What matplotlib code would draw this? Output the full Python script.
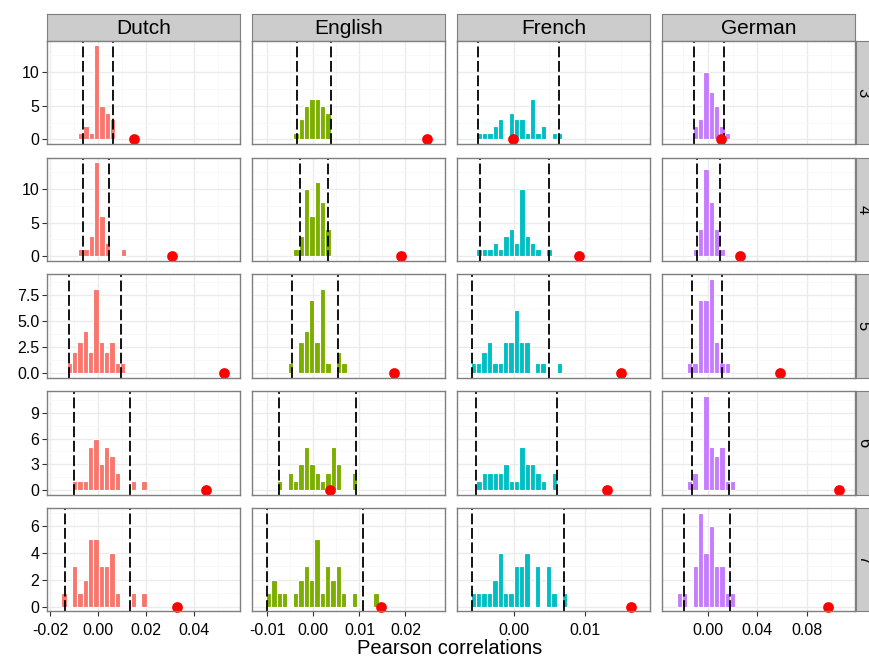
import numpy as np
import matplotlib
matplotlib.use("Agg")
import matplotlib.pyplot as plt

plt.rcParams["font.family"] = ["Liberation Sans", "DejaVu Sans"]

languages = ["Dutch", "English", "French", "German"]
windows = ["3", "4", "5", "6", "7"]
colors = ["#F8766D", "#7CAE00", "#00BFC4", "#C77CFF"]

# histogram bin width per language (free x scale per column)
bin_width = {"Dutch": 0.00222, "English": 0.001164, "French": 0.000751, "German": 0.00433}

# left edge of first bin, one per window size (3..7)
bin_start = {
    "Dutch": [-0.0084, -0.0084, -0.0131, -0.0109, -0.0153],
    "English": [-0.0044, -0.0044, -0.0056, -0.0079, -0.0103],
    "French": [-0.0052, -0.0052, -0.0060, -0.0052, -0.0060],
    "German": [-0.0125, -0.0125, -0.0169, -0.0169, -0.0255],
}
counts = {
    "Dutch": [
        [1, 2, 1, 14, 5, 4, 3],
        [1, 1, 3, 14, 6, 2, 0, 0, 1],
        [1, 2, 3, 4, 2, 8, 3, 2, 3, 1, 1],
        [1, 1, 1, 5, 6, 3, 5, 4, 2, 0, 0, 1, 0, 1],
        [1, 0, 3, 1, 2, 5, 5, 3, 3, 4, 1, 0, 0, 1, 0, 1],
    ],
    "English": [
        [1, 3, 5, 6, 6, 5, 4],
        [1, 3, 10, 6, 11, 8, 4],
        [1, 0, 3, 4, 7, 3, 8, 1, 0, 2, 1],
        [1, 0, 2, 1, 3, 5, 3, 2, 1, 2, 5, 3, 0, 0, 2],
        [1, 2, 1, 1, 0, 1, 2, 3, 2, 5, 1, 3, 2, 3, 1, 0, 1, 0, 0, 0, 1],
    ],
    "French": [
        [1, 1, 1, 2, 3, 0, 4, 3, 3, 1, 6, 1, 2, 0, 1, 1],
        [1, 1, 1, 2, 1, 3, 4, 2, 10, 3, 2, 1, 0, 1],
        [1, 1, 2, 3, 1, 1, 3, 3, 6, 3, 3, 0, 1, 1, 0, 0, 1],
        [1, 2, 2, 2, 2, 3, 1, 1, 5, 3, 3, 2, 1, 0, 2],
        [1, 1, 1, 1, 2, 4, 1, 1, 3, 3, 4, 0, 3, 0, 3, 1, 0, 1],
    ],
    "German": [
        [2, 3, 10, 7, 5, 2, 1],
        [1, 4, 13, 8, 4, 1],
        [1, 1, 7, 7, 9, 3, 1, 1],
        [1, 2, 0, 11, 5, 4, 5, 1, 1],
        [1, 1, 0, 3, 7, 4, 6, 3, 3, 1, 1],
    ],
}
# permutation interval bounds (dashed lines) and observed correlation (red dot)
lower = {
    "Dutch": [-0.0061, -0.0062, -0.0122, -0.0100, -0.0139],
    "English": [-0.0035, -0.0030, -0.0046, -0.0074, -0.0100],
    "French": [-0.0050, -0.0047, -0.0058, -0.0053, -0.0058],
    "German": [-0.0116, -0.0089, -0.0132, -0.0130, -0.0195],
}
upper = {
    "Dutch": [0.0060, 0.0045, 0.0095, 0.0133, 0.0133],
    "English": [0.0039, 0.0031, 0.0054, 0.0092, 0.0108],
    "French": [0.0064, 0.0049, 0.0050, 0.0061, 0.0070],
    "German": [0.0127, 0.0098, 0.0116, 0.0168, 0.0179],
}
observed = {
    "Dutch": [0.0148, 0.0307, 0.0522, 0.0448, 0.0328],
    "English": [0.0247, 0.0190, 0.0174, 0.0035, 0.0146],
    "French": [-0.0001, 0.0092, 0.0151, 0.0131, 0.0164],
    "German": [0.0105, 0.0260, 0.0584, 0.1065, 0.0976],
}

xlims = [(-0.02125, 0.059), (-0.01334, 0.02858), (-0.00793, 0.01911), (-0.0373, 0.1192)]
xticks = [[-0.02, 0.0, 0.02, 0.04], [-0.01, 0.0, 0.01, 0.02], [0.0, 0.01], [0.0, 0.04, 0.08]]
xticklabels = [["-0.02", "0.00", "0.02", "0.04"], ["-0.01", "0.00", "0.01", "0.02"],
               ["0.00", "0.01"], ["0.00", "0.04", "0.08"]]
xstep = [0.02, 0.01, 0.01, 0.04]
ylims = [(-0.7, 14.7), (-0.7, 14.7), (-0.45, 9.45), (-0.55, 11.55), (-0.35, 7.35)]
yticks = [[0, 5, 10], [0, 5, 10], [0, 2.5, 5, 7.5], [0, 3, 6, 9], [0, 2, 4, 6]]
yticklabels = [["0", "5", "10"], ["0", "5", "10"], ["0.0", "2.5", "5.0", "7.5"],
               ["0", "3", "6", "9"], ["0", "2", "4", "6"]]
ystep = [5, 5, 2.5, 3, 2]

W, H = 869, 657
fig = plt.figure(figsize=(W / 100, H / 100), dpi=100)


def box(x0, y0, w, h):
    return [x0 / W, 1 - (y0 + h) / H, w / W, h / H]


col_left = [47, 252, 457, 662]
row_top = [40.7, 157.5, 274.3, 391.1, 507.9]
pw, ph = 193, 103.4

for j, lang in enumerate(languages):
    # top strip
    s = fig.add_axes(box(col_left[j], 14, pw, row_top[0] - 14))
    s.set_facecolor("#cccccc")
    s.set_xticks([])
    s.set_yticks([])
    for sp in s.spines.values():
        sp.set_color("#7f7f7f")
    s.text(0.5, 0.45, lang, ha="center", va="center", fontsize=15, transform=s.transAxes)

    for i, win in enumerate(windows):
        ax = fig.add_axes(box(col_left[j], row_top[i], pw, ph))
        ax.set_xlim(xlims[j])
        ax.set_ylim(ylims[i])
        # grid
        x0 = xticks[j][0] - 2 * xstep[j]
        for k in range(12):
            gx = x0 + k * xstep[j] / 2
            ax.axvline(gx, color="#ebebeb" if k % 2 == 0 else "#f7f7f7",
                       lw=1.0 if k % 2 == 0 else 0.6, zorder=0)
        for k in range(-2, 12):
            gy = k * ystep[i] / 2
            ax.axhline(gy, color="#ebebeb" if k % 2 == 0 else "#f7f7f7",
                       lw=1.0 if k % 2 == 0 else 0.6, zorder=0)

        c = counts[lang][i]
        edges = bin_start[lang][i] + bin_width[lang] * np.arange(len(c))
        ax.bar(edges, c, width=bin_width[lang], align="edge", color=colors[j],
               edgecolor="white", linewidth=0.8, zorder=2)
        for v in (lower[lang][i], upper[lang][i]):
            ax.axvline(v, color="black", lw=1.3, linestyle=(0, (6, 2)), zorder=3)
        ax.scatter([observed[lang][i]], [0], s=60, color="red", zorder=4,
                   clip_on=False, linewidths=0)

        for sp in ax.spines.values():
            sp.set_color("#7f7f7f")
            sp.set_linewidth(1.0)
            sp.set_zorder(5)
        ax.tick_params(length=3.5, width=0.8, color="#333333", labelsize=11.5,
                       labelcolor="black", pad=2)
        ax.tick_params(axis="x", pad=5)
        if j == 0:
            ax.set_yticks(yticks[i])
            ax.set_yticklabels(yticklabels[i])
        else:
            ax.set_yticks([])
        if i == len(windows) - 1:
            ax.set_xticks(xticks[j])
            ax.set_xticklabels(xticklabels[j])
        else:
            ax.set_xticks([])

        if j == len(languages) - 1:
            r = fig.add_axes(box(855.5, row_top[i], 22, ph))
            r.set_facecolor("#cccccc")
            r.set_xticks([])
            r.set_yticks([])
            for sp in r.spines.values():
                sp.set_color("#7f7f7f")
            r.text(0.35, 0.5, win, ha="center", va="center", rotation=270,
                   fontsize=12, transform=r.transAxes)

fig.text(450 / W, 1 - 649 / H, "Pearson correlations", ha="center", va="center", fontsize=14.5)

fig.savefig("out.png", dpi=100)
